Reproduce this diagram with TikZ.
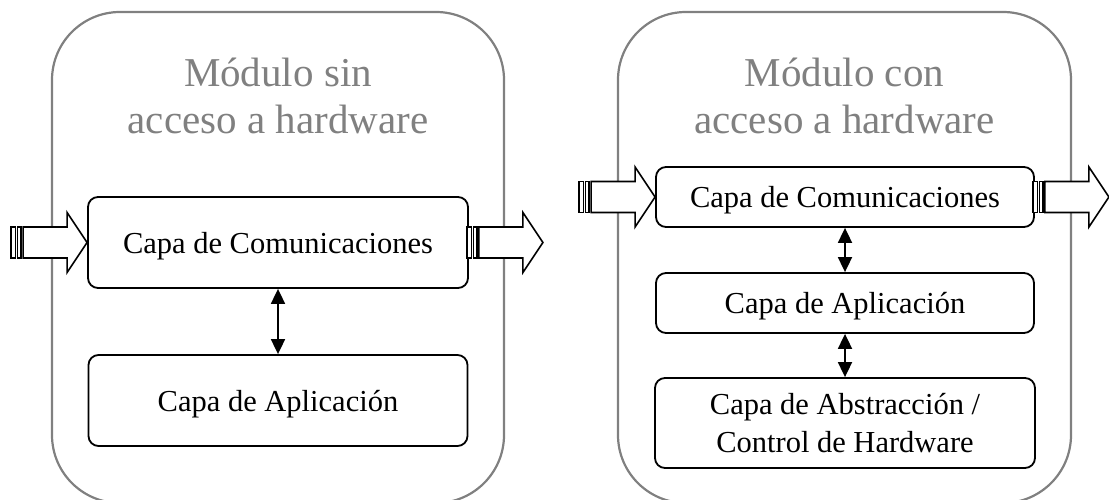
\documentclass[tikz,border=0pt]{standalone}
\usepackage{fontspec}
\setmainfont{Liberation Serif}
\usetikzlibrary{arrows.meta}
\definecolor{modgray}{RGB}{128,128,128}
\newcommand\stripedarrow{%
  \draw[blockarrow] (-64,-15.5) -- (-20,-15.5) -- (-20,-30) -- (0,0) -- (-20,30) -- (-20,15.5) -- (-64,15.5) -- cycle;
  \draw[blockarrow] (-76,-15.5) rectangle (-71.5,15.5);
  \draw[blockarrow] (-69.5,-15.5) rectangle (-66,15.5);
}
\begin{document}
\begin{tikzpicture}[x=1pt,y=-1pt,
  module/.style={draw=modgray, line width=2.2pt, rounded corners=68pt},
  title/.style={text=modgray, font=\fontsize{41}{48}\selectfont, anchor=base, inner sep=0pt},
  layer/.style={draw, line width=1.8pt, rounded corners=10pt, fill=white, align=center, inner sep=0pt, font=\fontsize{30.5}{38}\selectfont},
  oneline/.style={text depth=0pt},
  link/.style={line width=1.8pt, {Triangle[length=15pt,width=14pt]}-{Triangle[length=15pt,width=14pt]}},
  blockarrow/.style={draw, line width=1.6pt, fill=white, line join=miter}
]
\useasboundingbox (0,0) rectangle (1109,500);

% left module
\draw[module] (52,12) rectangle (504,503);
\node[title] (t1a) at (278,87) {Módulo sin};
\node[title] (t1b) at (278,134) {acceso a hardware};
\node[layer, oneline, minimum width=380pt, minimum height=91pt] (comL) at (278,242.5) {Capa de Comunicaciones};
\node[layer, oneline, minimum width=379pt, minimum height=91pt] (appL) at (278,400.5) {Capa de Aplicación};
\draw[link] (comL) -- (appL);
\begin{scope}[shift={(comL.west)}] \stripedarrow \end{scope}
\begin{scope}[shift={([xshift=74pt]comL.east)}] \stripedarrow \end{scope}

% right module
\draw[module] (618,12) rectangle (1071,503);
\node[title] (t2a) at (844.5,87) {Módulo con};
\node[title] (t2b) at (844.5,134) {acceso a hardware};
\node[layer, oneline, minimum width=378pt, minimum height=60pt] (comR) at (845,197) {Capa de Comunicaciones};
\node[layer, oneline, minimum width=378pt, minimum height=60pt] (appR) at (845,303) {Capa de Aplicación};
\node[layer, minimum width=380pt, minimum height=90pt] (absR) at (845,423) {Capa de Abstracción /\\Control de Hardware};
\draw[link] (comR) -- (appR);
\draw[link] (appR) -- (absR);
\begin{scope}[shift={(comR.west)}] \stripedarrow \end{scope}
\begin{scope}[shift={([xshift=74pt]comR.east)}] \stripedarrow \end{scope}
\end{tikzpicture}
\end{document}
